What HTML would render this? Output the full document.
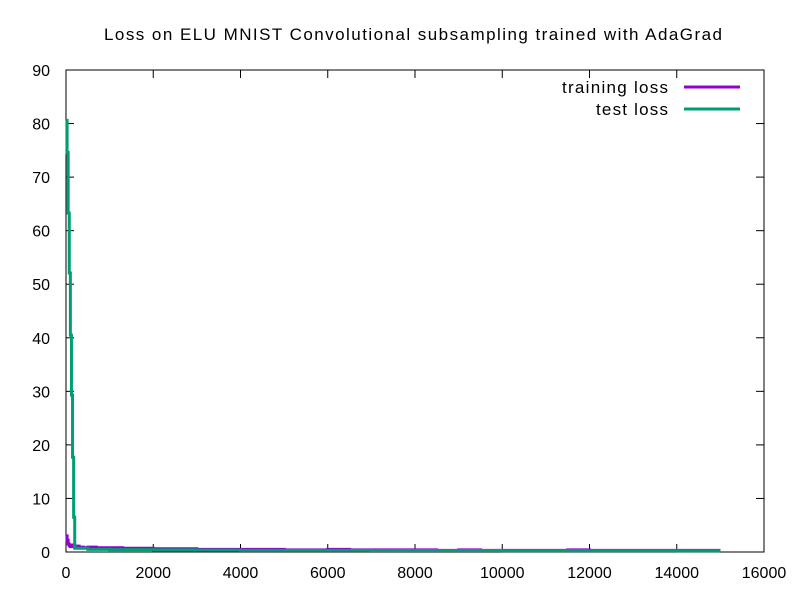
<!DOCTYPE html>
<html><head><meta charset="utf-8"><style>
body{margin:0;background:#fff;}
svg{display:block;font-family:"Liberation Sans",sans-serif;}
</style></head><body>
<svg id="chart" width="800" height="600">
<rect width="800" height="600" fill="#fff"/>
<text x="104" y="40" font-size="17" textLength="618" lengthAdjust="spacing">Loss on ELU MNIST Convolutional subsampling trained with AdaGrad</text>
<g id="axes"></g>
<g id="series"></g>
<g>
<text x="562" y="93" font-size="17" textLength="106" lengthAdjust="spacing">training loss</text>
<line x1="684" y1="87" x2="740" y2="87" stroke="#9400d3" stroke-width="3"/>
<text x="596" y="115" font-size="17" textLength="72" lengthAdjust="spacing">test loss</text>
<line x1="684" y1="109" x2="740" y2="109" stroke="#009e73" stroke-width="3"/>
</g>
</svg>
<script>
const xTicks=[0,2000,4000,6000,8000,10000,12000,14000,16000];
const yTicks=[0,10,20,30,40,50,60,70,80,90];
const trainX=[0,25,50,75,100,150,200,300,400,500,700,900,1100,1300,1500,1700,2000,2500,3000,3500,4000,4500,5000,5500,6000,6500,7000,7500,8000,8500,9000,9500,10000,10500,11000,11500,12000,12500,13000,13500,14000,14500,15000];
const trainY=[3.0,2.2,1.5,1.2,1.0,1.3,1.1,0.9,0.8,0.9,0.8,0.8,0.8,0.7,0.7,0.7,0.6,0.6,0.5,0.5,0.5,0.5,0.4,0.4,0.5,0.4,0.4,0.4,0.4,0.3,0.4,0.3,0.3,0.3,0.3,0.4,0.3,0.3,0.3,0.3,0.3,0.3,0.3];
const testX=[0,25,50,75,100,125,150,175,200,500,1000,2000,3000,4000,5000,6000,7000,8000,9000,10000,11000,12000,13000,14000,15000];
const testY=[80.6,74.6,63.3,52.1,40.5,29.3,17.7,6.5,0.7,0.5,0.45,0.4,0.35,0.3,0.3,0.3,0.28,0.27,0.27,0.26,0.25,0.25,0.25,0.24,0.24];
const X0=66,X1=764,Y0=552,Y1=70;
const sx=v=>X0+(v/16000)*(X1-X0);
const sy=v=>Y0-(v/90)*(Y0-Y1);
const NS="http://www.w3.org/2000/svg";
const axes=document.getElementById('axes'),ser=document.getElementById('series');
function mk(tag,attrs,parent){const e=document.createElementNS(NS,tag);for(const k in attrs)e.setAttribute(k,attrs[k]);parent.appendChild(e);return e;}
const frame=mk('rect',{x:X0,y:Y1,width:X1-X0,height:Y0-Y1,fill:'none',stroke:'#000','stroke-width':1},axes);


xTicks.forEach(t=>{const x=sx(t);
mk('line',{x1:x,y1:Y0,x2:x,y2:Y0-8,stroke:'#000'},axes);
mk('line',{x1:x,y1:Y1,x2:x,y2:Y1+8,stroke:'#000'},axes);
const tx=mk('text',{x:x,y:Y0+26,'font-size':16,'text-anchor':'middle'},axes);tx.textContent=t;

});
yTicks.forEach(t=>{const y=sy(t);
mk('line',{x1:X0,y1:y,x2:X0+8,y2:y,stroke:'#000'},axes);
mk('line',{x1:X1,y1:y,x2:X1-8,y2:y,stroke:'#000'},axes);
const tx=mk('text',{x:X0-16,y:y+6,'font-size':16,'text-anchor':'end'},axes);tx.textContent=t;

});
function stepPts(xs,ys){let p=[];for(let i=0;i<xs.length;i++){if(i>0)p.push(sx(xs[i])+','+sy(ys[i-1]));p.push(sx(xs[i])+','+sy(ys[i]));}return p.join(' ');}
const tr=mk('polyline',{points:stepPts(trainX,trainY),fill:'none',stroke:'#9400d3','stroke-width':3},ser);


const te=mk('polyline',{points:stepPts(testX,testY),fill:'none',stroke:'#009e73','stroke-width':3},ser);


</script>
</body></html>
